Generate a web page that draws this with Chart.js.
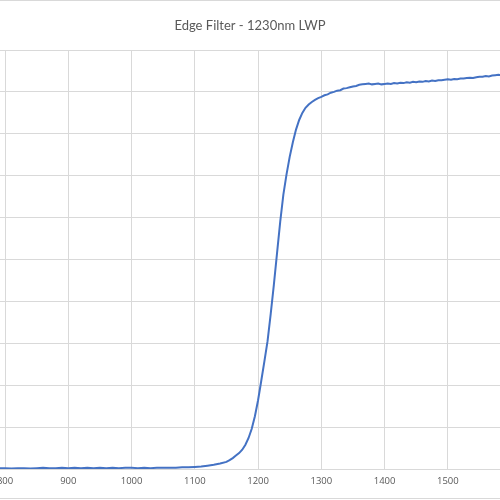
<!DOCTYPE html>
<html>
<head>
<meta charset="utf-8">
<script src="https://cdn.jsdelivr.net/npm/chart.js@4"></script>
<style>
    body { margin: 0; background: #fff; }
    #frame { position: relative; width: 500px; height: 500px; overflow: hidden; background: #fff; }
    #holder { position: absolute; top: 0; left: -50px; width: 614px; height: 500px; }
    #edges { position: absolute; left: 0; top: 0; width: 500px; height: 499px; border-top: 1px solid #d9d9d9; border-bottom: 1px solid #d9d9d9; box-sizing: border-box; pointer-events: none; }
</style>
</head>
<body>
<div id="frame">
    <div id="holder"><canvas id="chart"></canvas></div>
    <div id="edges"></div>
</div>
<script>
// wavelength in nm
const wavelengths = [
    790, 800, 810, 820, 830, 840, 850, 860, 870, 880, 890, 900, 910, 920, 930, 940, 950, 960,
    970, 980, 990, 1000, 1010, 1020, 1030, 1040, 1050, 1060, 1070, 1080, 1090, 1100, 1110, 1120,
    1130, 1140,
    1150, 1155, 1160, 1165, 1170, 1175, 1180, 1185, 1190, 1195, 1200, 1205, 1210, 1215, 1220,
    1225, 1230, 1235, 1240, 1245, 1250, 1255, 1260, 1265, 1270, 1275, 1280, 1285, 1290, 1295, 1300,
    1305, 1310, 1315, 1320, 1325, 1330, 1335, 1340, 1345, 1350, 1355, 1360, 1365, 1370, 1375,
    1380, 1385, 1390, 1395, 1400, 1405, 1410, 1415, 1420, 1425, 1430, 1435, 1440, 1445, 1450,
    1455, 1460, 1465, 1470, 1475, 1480, 1485, 1490, 1495, 1500, 1505, 1510, 1515, 1520, 1525,
    1530, 1535, 1540, 1545, 1550, 1555, 1560, 1565, 1570, 1575, 1580, 1585, 1590
];

// transmission in %
const transmission = [
    0.2, 0.2, 0.1, 0.2, 0.2, 0.1, 0.2, 0.3, 0.2, 0.2, 0.3, 0.2, 0.3, 0.2, 0.3, 0.2, 0.3, 0.2,
    0.3, 0.2, 0.3, 0.3, 0.2, 0.3, 0.2, 0.3, 0.3, 0.3, 0.3, 0.4, 0.4, 0.5, 0.6, 0.8,
    1.0, 1.3,
    1.7, 2.1, 2.6, 3.2, 3.8, 4.6, 5.8, 7.4, 9.6, 12.6, 16.4, 21.0, 25.7, 30.5, 37.0,
    44.0, 51.5, 59.0, 65.5, 70.3, 74.5, 78.0, 81.0, 83.3, 85.0, 86.2, 87.0, 87.6, 88.1, 88.5, 88.8,
    89.2, 89.4, 89.8, 90.0, 90.3, 90.4, 90.8, 90.9, 91.1, 91.3, 91.4, 91.7, 91.8, 91.9, 92.0,
    91.8, 91.9, 92.0, 91.8, 91.9, 92.0, 91.9, 92.1, 92.0, 92.2, 92.1, 92.3, 92.2, 92.4, 92.3,
    92.5, 92.4, 92.6, 92.5, 92.7, 92.6, 92.8, 92.8, 92.9, 93.0, 92.9, 93.1, 93.0, 93.2, 93.2,
    93.3, 93.4, 93.3, 93.5, 93.6, 93.6, 93.8, 93.7, 93.9, 94.0, 94.1, 94.0, 94.2
];

const xTicks = [800, 900, 1000, 1100, 1200, 1300, 1400, 1500];
const yTicks = [0, 10, 20, 30, 40, 50, 60, 70, 80, 90, 100];

const chartTitle = "Edge Filter - 1230nm LWP";
const xMin = 792, xMax = 1582.5;

const points = wavelengths.map((w, i) => ({ x: w, y: transmission[i] }));

new Chart(document.getElementById("chart").getContext("2d"), {
    type: "line",
    data: {
        datasets: [{
            data: points,
            borderColor: "#4472C4",
            borderWidth: 2,
            pointRadius: 0,
            tension: 0,
            fill: false
        }]
    },
    options: {
        responsive: true,
        maintainAspectRatio: false,
        animation: false,
        layout: { padding: { left: 50, right: 64, top: 0, bottom: 5.6 } },
        plugins: {
            legend: { display: false },
            tooltip: { enabled: false },
            title: {
                display: true,
                text: chartTitle,
                color: "#595959",
                font: { family: "Lato", size: 13, weight: "normal", lineHeight: 1.2 },
                padding: { top: 18.2, bottom: 16.2 }
            }
        },
        scales: {
            x: {
                type: "linear",
                min: xMin,
                max: xMax,
                afterBuildTicks: axis => { axis.ticks = xTicks.map(v => ({ value: v })); },
                grid: { color: "#d9d9d9", drawTicks: false },
                border: { color: "#d9d9d9" },
                ticks: {
                    padding: 7,
                    maxRotation: 0,
                    autoSkip: false,
                    color: "#595959",
                    font: { family: "Open Sans", size: 9.5 },
                    callback: v => String(v)
                }
            },
            y: {
                min: 0,
                max: 100,
                afterBuildTicks: axis => { axis.ticks = yTicks.map(v => ({ value: v })); },
                grid: { color: "#d9d9d9", drawTicks: false },
                border: { display: false },
                ticks: { display: false }
            }
        }
    }
});
</script>
</body>
</html>
